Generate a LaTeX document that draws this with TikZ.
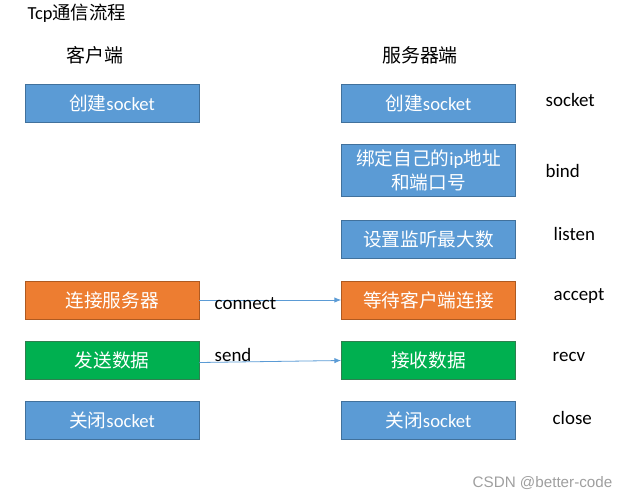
\documentclass[tikz,border=0pt]{standalone}
\usepackage{fontspec}
\setmainfont{Carlito}
\newfontfamily\cjk{Noto Sans CJK SC}
\newfontfamily\wmfont{Liberation Sans}
\usepackage{tikz}
\usetikzlibrary{arrows.meta}
\definecolor{boxblue}{HTML}{5B9BD5}
\definecolor{boxorange}{HTML}{ED7D31}
\definecolor{boxgreen}{HTML}{00B050}
\definecolor{edgeblue}{HTML}{41719C}
\definecolor{edgeorange}{HTML}{AE5A21}
\definecolor{edgegreen}{HTML}{2F7F4F}
\tikzset{
    stepbox/.style={draw=edgeblue, fill=boxblue, line width=0.6pt, text=white,
        minimum width=130.5pt, minimum height=28.5pt, inner sep=0pt,
        font=\fontsize{14}{16}\selectfont, align=center},
    connbox/.style={stepbox, draw=edgeorange, fill=boxorange},
    databox/.style={stepbox, draw=edgegreen, fill=boxgreen},
    callname/.style={font=\fontsize{14.2}{16}\selectfont, anchor=west},
    msg/.style={draw=boxblue, line width=0.6pt, -{Latex[length=5pt,width=4pt]}},
}
\begin{document}
\begin{tikzpicture}[x=0.75pt, y=-0.75pt]
\useasboundingbox (0,0) rectangle (630,499);
% titles
\node[anchor=west, font=\fontsize{13.8}{16}\selectfont] (title) at (23,13) {Tcp{\cjk 通信流程}};
\node[font=\cjk\fontsize{14.2}{16}\selectfont] (client) at (95,55) {客户端};
\node[font=\cjk\fontsize{14.2}{16}\selectfont] (server) at (420,55) {服务器端};
% client side
\node[stepbox] (csock) at (112,103) {{\cjk 创建}socket};
\node[connbox] (cconn) at (112,300) {\cjk 连接服务器};
\node[databox] (csend) at (112,360.5) {\cjk 发送数据};
\node[stepbox] (cclose) at (112,420.5) {{\cjk 关闭}socket};
% server side
\node[stepbox] (ssock) at (428.5,103) {{\cjk 创建}socket};
\node[stepbox, minimum height=39.5pt] (sbind) at (428.5,170.5) {{\cjk 绑定自己的}ip{\cjk 地址}\\[1.5pt]{\cjk 和端口号}};
\node[stepbox] (slisten) at (428.5,239) {\cjk 设置监听最大数};
\node[connbox] (saccept) at (428.5,300) {\cjk 等待客户端连接};
\node[databox] (srecv) at (428.5,360.5) {\cjk 接收数据};
\node[stepbox] (sclose) at (428.5,420.5) {{\cjk 关闭}socket};
% function names
\node[callname] (nsock) at (541,100) {socket};
\node[callname] (nbind) at (541,171) {bind};
\node[callname] (nlisten) at (549,234) {listen};
\node[callname] (naccept) at (549,296) {accept};
\node[callname] (nrecv) at (548,357) {recv};
\node[callname] (nclose) at (548,418) {close};
% messages
\draw[msg] (cconn.east) -- (saccept.west);
\draw[msg] ([yshift=-1.5pt]csend.east) -- (srecv.west);
\node[callname] (lconn) at (210,304) {connect};
\node[callname] (lsend) at (210,355) {send};
% watermark
\node[anchor=east, text=gray!75, font=\wmfont\fontsize{11.4}{13}\selectfont] (wm) at (617,483) {CSDN @better-code};
\end{tikzpicture}
\end{document}
